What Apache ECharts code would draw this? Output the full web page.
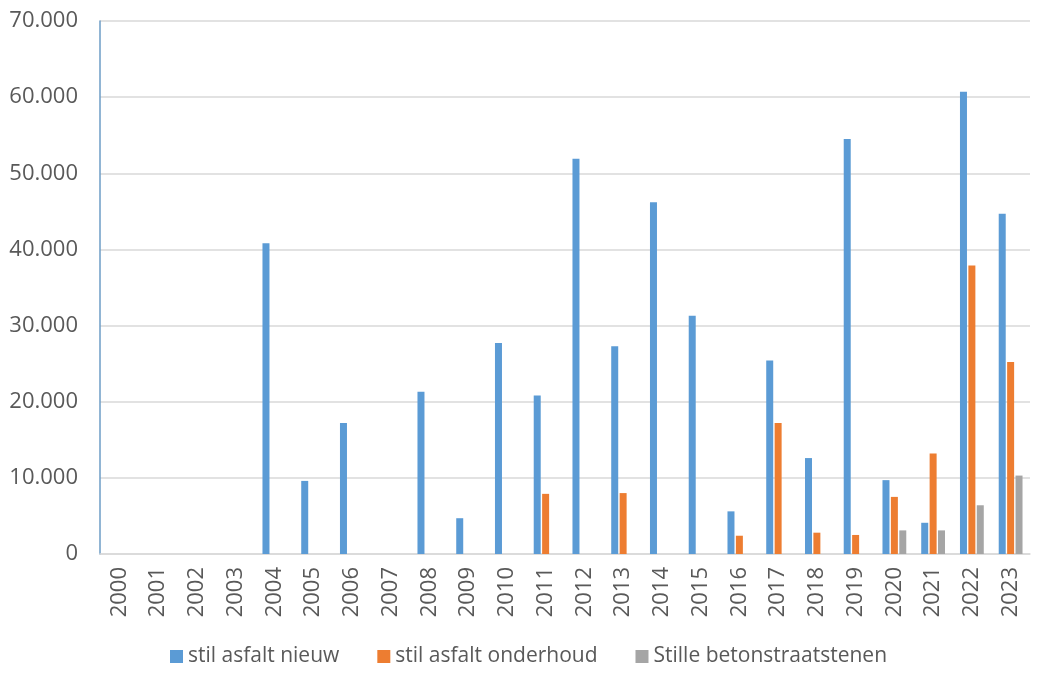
<!DOCTYPE html>
<html>
<head>
<meta charset="utf-8">
<script src="https://cdn.jsdelivr.net/npm/echarts@6/dist/echarts.min.js"></script>
<style>html,body{margin:0;padding:0;background:#fff;}#c{width:1057px;height:681px;}</style>
</head>
<body>
<div id="c"></div>
<script>
const years = ['2000','2001','2002','2003','2004','2005','2006','2007','2008','2009','2010','2011','2012','2013','2014','2015','2016','2017','2018','2019','2020','2021','2022','2023'];
const asfaltNieuw = [0,0,0,0,40800,9600,17200,0,21300,4700,27700,20800,51900,27300,46200,31300,5600,25400,12600,54500,9700,4100,60700,44700];
const asfaltOnderhoud = [0,0,0,0,0,0,0,0,0,0,0,7900,0,8000,0,0,2400,17200,2800,2500,7500,13200,37900,25200];
const betonstraatstenen = [0,0,0,0,0,0,0,0,0,0,0,0,0,0,0,0,0,0,0,0,3100,3100,6400,10300];
const seriesNames = ['stil asfalt nieuw','stil asfalt onderhoud','Stille betonstraatstenen'];
const yMin = 0, yMax = 70000, yStep = 10000;

const font = '"Open Sans", "Noto Sans", sans-serif';
const chart = echarts.init(document.getElementById('c'));
function fmt(v){ return String(v).replace(/\B(?=(\d{3})+(?!\d))/g, '.'); }
const mk = (name, data, color) => ({
  name, type: 'bar', data, barWidth: 7, barGap: '20%',
  itemStyle: { color }
});
chart.setOption({
  animation: false,
  textStyle: { fontFamily: font },
  grid: { left: 100, right: 27, top: 21, bottom: 127 },
  legend: {
    bottom: 9, left: 'center', itemWidth: 13, itemHeight: 13, itemGap: 38,
    icon: 'rect',
    textStyle: { fontSize: 21, color: '#595959', fontFamily: font },
    data: seriesNames
  },
  xAxis: {
    type: 'category', data: years,
    axisLine: { lineStyle: { color: '#d9d9d9', width: 1.5 } },
    axisTick: { show: false },
    axisLabel: { rotate: 90, fontSize: 22, color: '#595959', margin: 13, fontFamily: font }
  },
  yAxis: {
    type: 'value', min: yMin, max: yMax, interval: yStep,
    axisLine: { show: true, lineStyle: { color: '#6d9cc6', width: 1.5 } },
    axisTick: { show: false },
    splitLine: { lineStyle: { color: '#d9d9d9', width: 1.5 } },
    axisLabel: { fontSize: 22, color: '#595959', margin: 22, formatter: fmt, fontFamily: font }
  },
  series: [
    mk(seriesNames[0], asfaltNieuw, '#5b9bd5'),
    mk(seriesNames[1], asfaltOnderhoud, '#ed7d31'),
    mk(seriesNames[2], betonstraatstenen, '#a5a5a5')
  ]
});
</script>
</body>
</html>
